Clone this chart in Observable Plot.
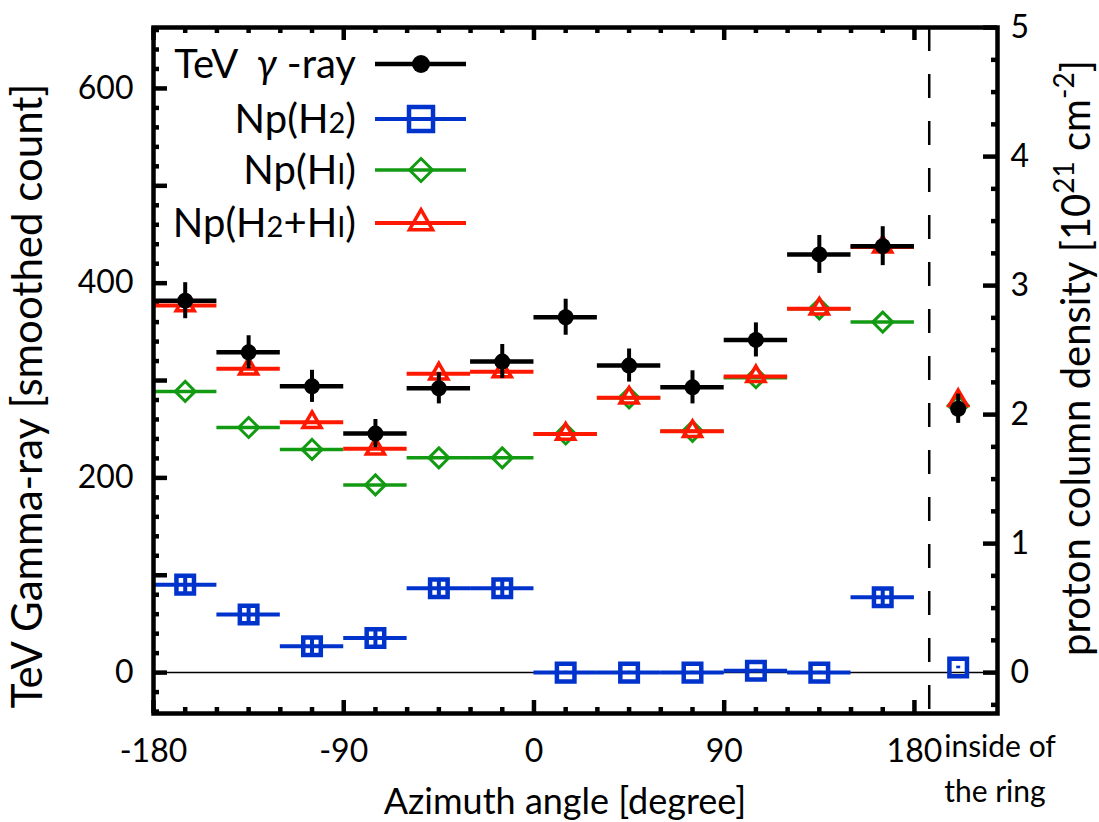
<!DOCTYPE html>
<html><head><meta charset="utf-8">
<script src="https://cdn.jsdelivr.net/npm/d3@7"></script>
<script src="https://cdn.jsdelivr.net/npm/@observablehq/plot@0.6"></script>
<style>body{margin:0;background:#fff} svg{display:block}</style>
</head><body><div id="chart"></div>
<script>
// ---------------- data ----------------
const azimuth = [-165, -135, -105, -75, -45, -15, 15, 45, 75, 105, 135, 165];
const binHalfWidth = 15;
const insideAzimuth = 200.7;          // column for "inside of the ring"
const ringBoundary = 187;             // dashed separator
const gammaCount = [382, 329, 294, 245.5, 292, 319.5, 365, 315.4, 293, 341.7, 429.5, 438];
const gammaErr   = [18.5, 17, 16.5, 14.5, 16, 17.5, 18.5, 17, 17, 17.5, 19.5, 20];
const gammaInside = 271, gammaInsideErr = 15;
const npH2    = [0.682, 0.45, 0.204, 0.269, 0.654, 0.654, 0, 0, 0, 0.015, 0, 0.584];
const npH2Err = [0.065, 0.06, 0.065, 0.065, 0.065, 0.065, 0.01, 0.01, 0.01, 0.01, 0.01, 0.065];
const npHI    = [2.18, 1.90, 1.73, 1.455, 1.665, 1.665, 1.85, 2.13, 1.87, 2.286, 2.82, 2.717];
const npTotal = [2.845, 2.355, 1.94, 1.735, 2.317, 2.333, 1.85, 2.13, 1.87, 2.296, 2.82, 3.30];
const npH2Inside = 0.04, npH2InsideErr = 0.01, npHIInside = 2.07, npTotalInside = 2.11;
const leftTicks = [0, 200, 400, 600];
const rightTicks = [0, 1, 2, 3, 4, 5];
const xTicks = [-180, -90, 0, 90, 180];
const K = 132.5;   // left units per 10^21 cm^-2

// ---------------- layout ----------------
const WIDTH = 1099, HEIGHT = 822;
const mL = 153, mR = 102, mT = 27, mB = 109;
const PW = WIDTH - mL - mR, PH = HEIGHT - mT - mB;
const BLUE = "#0033cc", GREEN = "#139a13", RED = "#ff1800", BLACK = "#000";
const FONT = "Lato, 'Open Sans', sans-serif";

const bins = azimuth.map((x, i) => ({
  x, g: gammaCount[i], ge: gammaErr[i],
  h2: npH2[i] * K, h2e: npH2Err[i] * K, hi: npHI[i] * K, tot: npTotal[i] * K
}));
const inside = [{x: insideAzimuth, g: gammaInside, ge: gammaInsideErr,
  h2: npH2Inside * K, h2e: npH2InsideErr * K, hi: npHIInside * K, tot: npTotalInside * K}];
const all = bins.concat(inside);

const leftLong = d3.range(0, 601, 100);
const leftShort = d3.range(-40, 661, 20).filter(v => v % 100 !== 0);
const rightMinor = d3.range(-0.25, 5.01, 0.25).map(v => v * K).filter(v => Math.abs((v / K) % 1) > 1e-6);
const rightMajor = rightTicks.map(v => v * K);
const xMinor = d3.range(-165, 180, 15).filter(v => v % 90 !== 0);

const tickStyle = {stroke: BLACK, strokeWidth: 4.5};

const svg = Plot.plot({
  width: WIDTH, height: HEIGHT,
  marginLeft: mL, marginRight: mR, marginTop: mT, marginBottom: mB,
  style: {fontFamily: FONT, fontSize: "32px", color: "#000", background: "#fff", overflow: "visible"},
  x: {domain: [-180, 219.3]},
  y: {domain: [-42, 662.6]},
  marks: [
    Plot.ruleY([0], {stroke: BLACK, strokeWidth: 1.5}),
    Plot.ruleX([ringBoundary], {stroke: BLACK, strokeWidth: 2.5, strokeDasharray: "24,23"}),
    // ticks (inward)
    Plot.tickY(leftLong, {y: d => d, insetRight: PW - 14, ...tickStyle}),
    Plot.tickY(leftShort, {y: d => d, insetRight: PW - 6, ...tickStyle}),
    Plot.tickY(rightMajor, {y: d => d, insetLeft: PW - 14, ...tickStyle}),
    Plot.tickY(rightMinor, {y: d => d, insetLeft: PW - 6, ...tickStyle}),
    Plot.tickX(xTicks, {x: d => d, insetTop: PH - 13, ...tickStyle}),
    Plot.tickX(xMinor, {x: d => d, insetTop: PH - 6, ...tickStyle}),
    Plot.tickX(xTicks, {x: d => d, insetBottom: PH - 13, ...tickStyle}),
    Plot.tickX(xMinor, {x: d => d, insetBottom: PH - 6, ...tickStyle}),
    // Np(H2)
    Plot.ruleY(bins, {y: "h2", x1: d => d.x - binHalfWidth, x2: d => d.x + binHalfWidth, stroke: BLUE, strokeWidth: 4}),
    Plot.ruleX(all, {x: "x", y1: d => d.h2 - d.h2e, y2: d => d.h2 + d.h2e, stroke: BLUE, strokeWidth: 4}),
    Plot.dot(all, {x: "x", y: "h2", symbol: "square", r: 9.9, stroke: BLUE, strokeWidth: 4.5, fill: "none"}),
    // Np(HI)
    Plot.ruleY(bins, {y: "hi", x1: d => d.x - binHalfWidth, x2: d => d.x + binHalfWidth, stroke: GREEN, strokeWidth: 3.5}),
    Plot.dot(all, {x: "x", y: "hi", symbol: "diamond2", r: 9, stroke: GREEN, strokeWidth: 3, fill: "none"}),
    // Np(H2+HI)
    Plot.ruleY(bins, {y: "tot", x1: d => d.x - binHalfWidth, x2: d => d.x + binHalfWidth, stroke: RED, strokeWidth: 4}),
    Plot.dot(all, {x: "x", y: "tot", symbol: "triangle2", r: 8.6, stroke: RED, strokeWidth: 3.5, fill: "none"}),
    // TeV gamma-ray
    Plot.ruleY(bins, {y: "g", x1: d => d.x - binHalfWidth, x2: d => d.x + binHalfWidth, stroke: BLACK, strokeWidth: 4.5}),
    Plot.ruleX(all, {x: "x", y1: d => d.g - d.ge, y2: d => d.g + d.ge, stroke: BLACK, strokeWidth: 4}),
    Plot.dot(all, {x: "x", y: "g", r: 8, fill: BLACK}),
    Plot.frame({stroke: BLACK, strokeWidth: 4.5}),
    // axis labels
    Plot.axisY(leftTicks, {anchor: "left", tickSize: 0, tickPadding: 20, label: null, tickFormat: d => String(d), fontSize: 32}),
    Plot.axisY(rightMajor, {anchor: "right", tickSize: 0, tickPadding: 13, label: null, tickFormat: d => String(Math.round(d / K)), fontSize: 32}),
    Plot.axisX(xTicks, {anchor: "bottom", tickSize: 0, tickPadding: 26, label: null, tickFormat: d => String(d), fontSize: 32}),
    Plot.text(["inside of\nthe ring"], {x: () => insideAzimuth, frameAnchor: "bottom", textAnchor: "start", lineAnchor: "top", dx: -14, dy: 12, lineHeight: 1.5, fontSize: 30})
  ]
});
document.getElementById("chart").appendChild(svg);

// ---------------- titles & legend ----------------
const s = d3.select(svg);
const g = s.append("g").attr("font-family", FONT).attr("fill", "#000");

g.append("text").attr("transform", "translate(42,396) rotate(-90)").attr("text-anchor", "middle")
  .attr("font-size", 42).text("TeV Gamma-ray [smoothed count]");

const rt = g.append("text").attr("transform", "translate(1090,358) rotate(-90)").attr("text-anchor", "middle").attr("font-size", 40);
rt.append("tspan").text("proton column density [10");
rt.append("tspan").attr("font-size", 28).attr("dy", -16).text("21");
rt.append("tspan").attr("dy", 16).text(" cm");
rt.append("tspan").attr("font-size", 28).attr("dy", -16).text("-2");
rt.append("tspan").attr("dy", 16).text("]");

g.append("text").attr("x", 565).attr("y", 814).attr("text-anchor", "middle").attr("font-size", 36)
  .text("Azimuth angle [degree]");

// legend
const legend = [
  {c: BLACK, sw: 4.5, y: 64},
  {c: BLUE, sw: 4, y: 119},
  {c: GREEN, sw: 3.5, y: 170},
  {c: RED, sw: 4, y: 223}
];
const lg = g.append("g");
const lt = (i) => lg.append("text").attr("x", 356).attr("y", legend[i].y + 14).attr("text-anchor", "end").attr("font-size", 40);
let t = lt(0);
t.append("tspan").text("TeV ");
t.append("tspan").attr("font-style", "italic").text(" γ");
t.append("tspan").text(" -ray");
t = lt(1);
t.append("tspan").text("Np(H");
t.append("tspan").attr("font-size", 29).text("2");
t.append("tspan").text(")");
t = lt(2);
t.append("tspan").text("Np(H");
t.append("tspan").attr("font-size", 29).text("I");
t.append("tspan").text(")");
t = lt(3);
t.append("tspan").text("Np(H");
t.append("tspan").attr("font-size", 29).text("2");
t.append("tspan").text("+H");
t.append("tspan").attr("font-size", 29).text("I");
t.append("tspan").text(")");
legend.forEach(d => {
  lg.append("line").attr("x1", 375).attr("x2", 466).attr("y1", d.y).attr("y2", d.y).attr("stroke", d.c).attr("stroke-width", d.sw);
});
const sym = [
  {type: d3.symbolCircle, size: 254, fill: BLACK, stroke: "none", sw: 0},
  {type: d3.symbolSquare, size: 576, fill: "none", stroke: BLUE, sw: 4.5},
  {type: d3.symbolDiamond2, size: 337, fill: "none", stroke: GREEN, sw: 3},
  {type: d3.symbolTriangle2, size: 380, fill: "none", stroke: RED, sw: 3.5}
];
sym.forEach((m, i) => {
  lg.append("path").attr("d", d3.symbol(m.type, m.size)()).attr("transform", `translate(421,${legend[i].y})`)
    .attr("fill", m.fill).attr("stroke", m.stroke).attr("stroke-width", m.sw);
});
</script>
</body></html>
